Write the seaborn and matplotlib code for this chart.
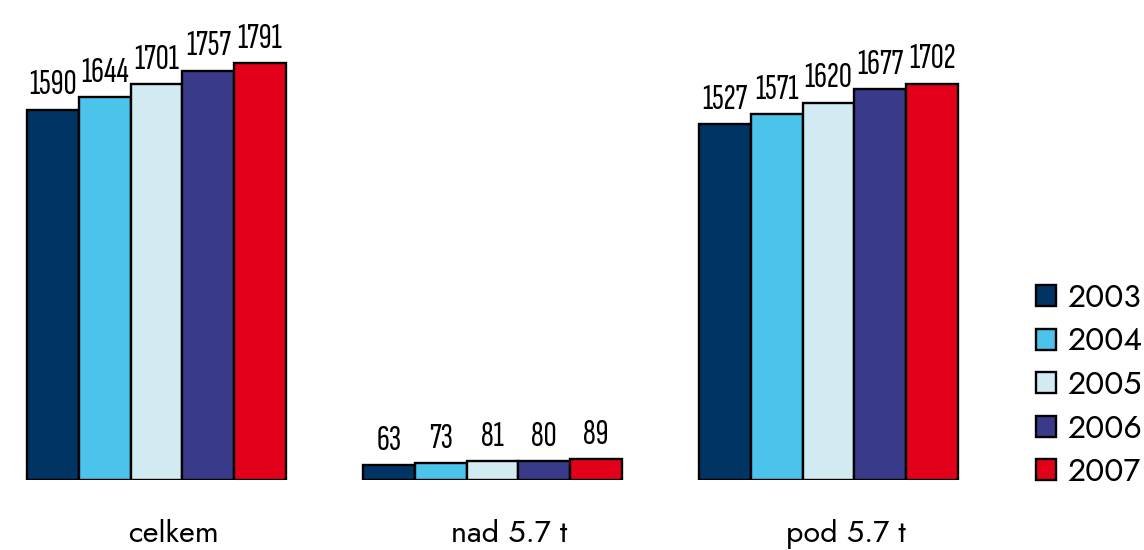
import matplotlib
matplotlib.use("Agg")
import matplotlib.pyplot as plt
import matplotlib.transforms as mtransforms
import seaborn as sns
import pandas as pd
from matplotlib.patches import Patch

categories = ["celkem", "nad 5.7 t", "pod 5.7 t"]
years = ["2003", "2004", "2005", "2006", "2007"]
values = {
    "2003": [1590, 63, 1527],
    "2004": [1644, 73, 1571],
    "2005": [1701, 81, 1620],
    "2006": [1757, 80, 1677],
    "2007": [1791, 89, 1702],
}
colors = ["#003464", "#4BC3EB", "#D2EBF2", "#3A3A8A", "#E2001A"]

rows = []
for y in years:
    for c, v in zip(categories, values[y]):
        rows.append({"kategorie": c, "rok": y, "hodnota": v})
df = pd.DataFrame(rows)

sns.set_theme(style="white")
plt.rcParams["font.family"] = ["Jost", "DejaVu Sans"]
plt.rcParams["text.color"] = "black"
plt.rcParams["xtick.color"] = "black"

W, H = 1144, 550
fig = plt.figure(figsize=(W / 100, H / 100), dpi=100)
ax = fig.add_axes([0, 70 / H, 1008 / W, 480 / H])

sns.barplot(data=df, x="kategorie", y="hodnota", hue="rok", hue_order=years,
            order=categories, palette=colors, saturation=1, width=0.771,
            edgecolor="black", linewidth=1.7, ax=ax, legend=False, errorbar=None)

ax.set_xlim(-156.5 / 336, -156.5 / 336 + 1008 / 336)
ax.set_ylim(0, 480 / 0.2329)

for cont in ax.containers:
    ax.bar_label(cont, padding=6, fontsize=26, fontweight="semibold",
                 family=["Sofia Sans Extra Condensed", "DejaVu Sans"], color="black")

for s in ax.spines.values():
    s.set_visible(False)
ax.set_yticks([])
ax.set_xlabel("")
ax.set_ylabel("")
ax.tick_params(axis="x", length=0, pad=28, labelsize=22, labelcolor="black")
offset = mtransforms.ScaledTranslation(17 / 100, 0, fig.dpi_scale_trans)
for lab in ax.get_xticklabels():
    lab.set_transform(lab.get_transform() + offset)

handles = [Patch(facecolor=c, edgecolor="black", linewidth=1.7, label=y) for c, y in zip(colors, years)]
fig.legend(handles=handles, loc="center left", bbox_to_anchor=(1036 / W, 1 - 385 / H),
           frameon=False, fontsize=23, handlelength=0.62, handleheight=0.62,
           handletextpad=0.35, labelspacing=0.36, borderaxespad=0, borderpad=0)

fig.savefig("out.png", dpi=100)
